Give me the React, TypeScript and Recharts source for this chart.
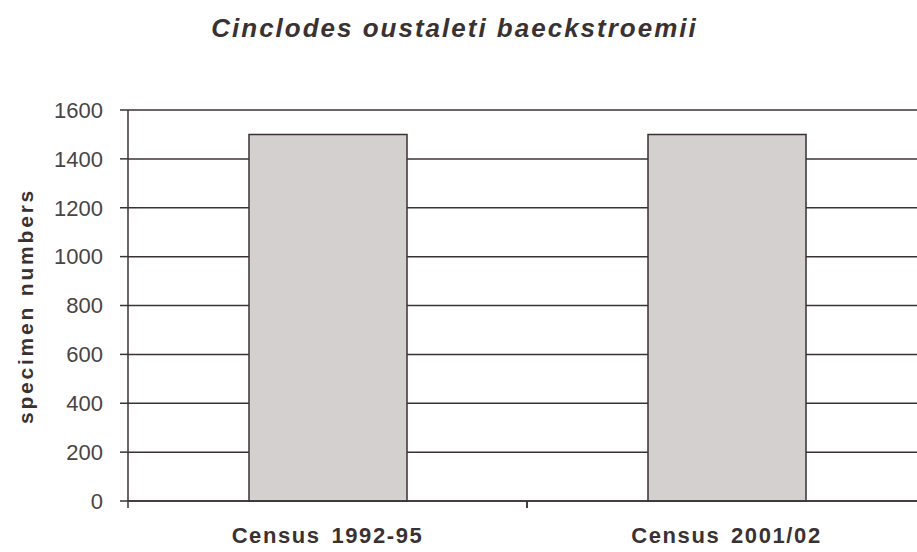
import React from "react";
import { BarChart, Bar, XAxis, YAxis, CartesianGrid } from "recharts";

const categories = ["Census 1992-95", "Census 2001/02"];
const specimenNumbers = [1500, 1500];
const yTicks = [0, 200, 400, 600, 800, 1000, 1200, 1400, 1600];

const data = categories.map((c, i) => ({ name: c, value: specimenNumbers[i] }));

const XTick = (props: any) => {
  const { x, y, payload } = props;
  const off = payload && payload.offset ? payload.offset : 0;
  return (
    <g>
      {off ? (
        <>
          <line x1={x - off} y1={y - 8} x2={x - off} y2={y - 1} stroke="#3b3333" strokeWidth={1.5} />
          <line x1={x + off} y1={y - 8} x2={x + off} y2={y - 1} stroke="#3b3333" strokeWidth={1.5} />
        </>
      ) : null}
      <text
        x={x}
        y={y + 34}
        textAnchor="middle"
        fill="#3a3232"
        fontFamily="Liberation Sans, Arial, sans-serif"
        fontSize={22}
        fontWeight="bold"
        letterSpacing={1.6}
        wordSpacing={3}
      >
        {payload.value}
      </text>
    </g>
  );
};

export default function App() {
  return (
    <div
      style={{
        position: "absolute",
        left: 0,
        top: 0,
        width: 917,
        height: 552,
        overflow: "hidden",
        background: "#ffffff",
      }}
    >
      <div
        style={{
          position: "absolute",
          left: 0,
          top: 13,
          width: 917,
          textAlign: "center",
          fontFamily: "Liberation Sans, Arial, sans-serif",
          fontSize: 26,
          fontWeight: "bold",
          fontStyle: "italic",
          color: "#3a3232",
          letterSpacing: 2,
          paddingRight: 8,
          boxSizing: "border-box",
        }}
      >
        Cinclodes oustaleti baeckstroemii
      </div>
      <div
        style={{
          position: "absolute",
          left: 26,
          top: 306,
          transform: "translate(-50%, -50%) rotate(-90deg)",
          fontFamily: "Liberation Sans, Arial, sans-serif",
          fontSize: 21,
          fontWeight: "bold",
          color: "#3a3232",
          letterSpacing: 2.8,
          whiteSpace: "nowrap",
        }}
      >
        specimen numbers
      </div>
      <div style={{ position: "absolute", left: 0, top: 0 }}>
        <BarChart
          width={930}
          height={552}
          data={data}
          margin={{ top: 110, right: 4, bottom: 21, left: 8 }}
          barSize={158}
        >
          <CartesianGrid vertical={false} stroke="#3b3333" strokeWidth={1.5} />
          <XAxis
            dataKey="name"
            height={30}
            axisLine={{ stroke: "#3b3333", strokeWidth: 1.5 }}
            tickLine={false}
            tick={<XTick />}
            interval={0}
          />
          <YAxis
            width={120}
            domain={[0, 1600]}
            ticks={yTicks}
            interval={0}
            axisLine={{ stroke: "#3b3333", strokeWidth: 1.5 }}
            tickLine={{ stroke: "#3b3333", strokeWidth: 1.5 }}
            tickSize={8}
            tickMargin={17}
            tick={{
              fill: "#4a4444",
              fontSize: 22,
              fontFamily: "Liberation Sans, Arial, sans-serif",
            }}
          />
          <Bar
            dataKey="value"
            fill="#d4d0cf"
            stroke="#3b3030"
            strokeWidth={1.5}
            isAnimationActive={false}
          />
        </BarChart>
      </div>
    </div>
  );
}
